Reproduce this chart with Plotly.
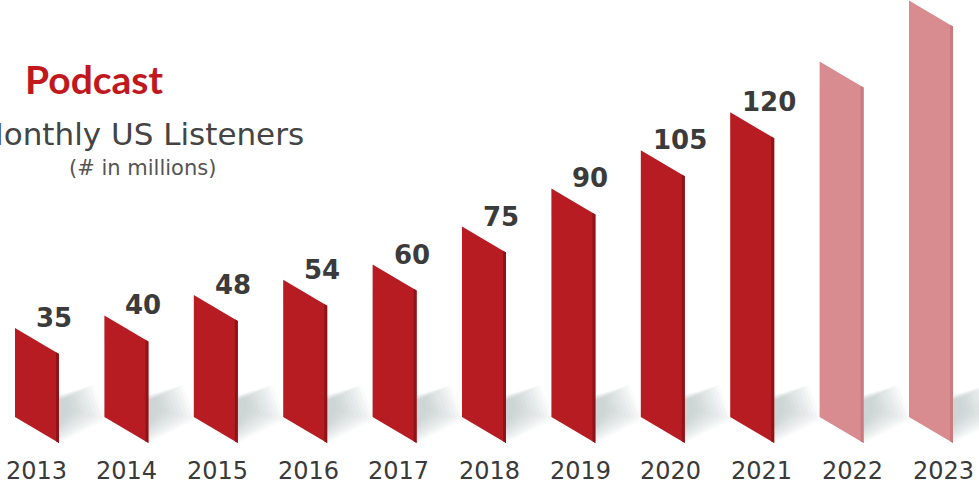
import plotly.graph_objects as go

# ---- data ----
years = ["2013", "2014", "2015", "2016", "2017", "2018", "2019", "2020", "2021", "2022", "2023"]
listeners = [35, 40, 48, 54, 60, 75, 90, 105, 120, 140, 164]
value_labels = ["35", "40", "48", "54", "60", "75", "90", "105", "120", "", ""]
projected = [False] * 9 + [True] * 2

# ---- layout constants (pixels -> data units) ----
W, H = 979, 486
PX_X = 89.4            # pixels per category step
PX_Y = 2.54            # pixels per million listeners
X0 = -37 / PX_X
X1 = X0 + W / PX_X
Y1 = 417 / PX_Y
Y0 = Y1 - H / PX_Y

HW = 22 / PX_X         # half bar width
SL = 26 / PX_Y         # slant drop
EDGE = 3 / PX_X

RED = "#B81C23"
RED_EDGE = "#8F1419"
PINK = "#D98C8F"
PINK_EDGE = "#C97B7E"

fig = go.Figure()


def poly(xs, ys, color):
    fig.add_trace(go.Scatter(
        x=xs + [xs[0]], y=ys + [ys[0]], mode="lines", fill="toself",
        fillcolor=color, line=dict(width=0, color=color),
        hoverinfo="skip", showlegend=False))


# soft shadows: nested quads from outer (faint) to inner
OUTER = [(0, 0), (0, 48), (34, 58), (48, 24)]
INNER = [(0, 18), (0, 43), (8, 45), (10, 33)]
N_LAYERS = 10
for i, v in enumerate(listeners):
    bx = i + HW
    by = -SL
    for k in range(N_LAYERS):
        t = k / (N_LAYERS - 1)
        pts = [(o[0] + (n[0] - o[0]) * t, o[1] + (n[1] - o[1]) * t) for o, n in zip(OUTER, INNER)]
        poly([bx + dx / PX_X for dx, dy in pts], [by + dy / PX_Y for dx, dy in pts],
             "rgba(150,156,170,0.055)")

# bars
for i, v in enumerate(listeners):
    face = PINK if projected[i] else RED
    edge = PINK_EDGE if projected[i] else RED_EDGE
    poly([i - HW, i + HW, i + HW, i - HW], [v, v - SL, -SL, 0], face)
    f = 1 - EDGE / (2 * HW)
    poly([i + HW - EDGE, i + HW, i + HW, i + HW - EDGE],
         [v - SL * f, v - SL, -SL, -SL * f], edge)

annotations = []
for i, v in enumerate(listeners):
    if value_labels[i]:
        annotations.append(dict(
            x=i, y=v, xref="x", yref="y", text=value_labels[i], showarrow=False,
            xanchor="center", yanchor="middle", xshift=17, yshift=10,
            font=dict(family="DejaVu Sans", size=26, color="#3B3B3B", weight="bold")))
    annotations.append(dict(
        x=i, y=1 - 471 / H, xref="x", yref="paper", text=years[i], showarrow=False,
        xanchor="center", yanchor="middle", xshift=-1 + 1.3 * i,
        font=dict(family="DejaVu Sans", size=24, color="#3A3A3A")))

annotations += [
    dict(x=94 / W, y=1 - 79 / H, xref="paper", yref="paper", text="<b>Podcast</b>",
         showarrow=False, xanchor="center", yanchor="middle",
         font=dict(family="Lato", size=39, color="#C0181C")),
    dict(x=140 / W, y=1 - 134 / H, xref="paper", yref="paper", text="Monthly US Listeners",
         showarrow=False, xanchor="center", yanchor="middle",
         font=dict(family="DejaVu Sans", size=31, color="#444444")),
    dict(x=142 / W, y=1 - 168 / H, xref="paper", yref="paper", text="(# in millions)",
         showarrow=False, xanchor="center", yanchor="middle",
         font=dict(family="DejaVu Sans", size=21, color="#555555")),
]

fig.update_layout(
    width=W, height=H, margin=dict(l=0, r=0, t=0, b=0),
    paper_bgcolor="white", plot_bgcolor="white",
    xaxis=dict(range=[X0, X1], visible=False, fixedrange=True),
    yaxis=dict(range=[Y0, Y1], visible=False, fixedrange=True),
    annotations=annotations, showlegend=False,
)

fig.write_html("out.html", config={"displayModeBar": False})
